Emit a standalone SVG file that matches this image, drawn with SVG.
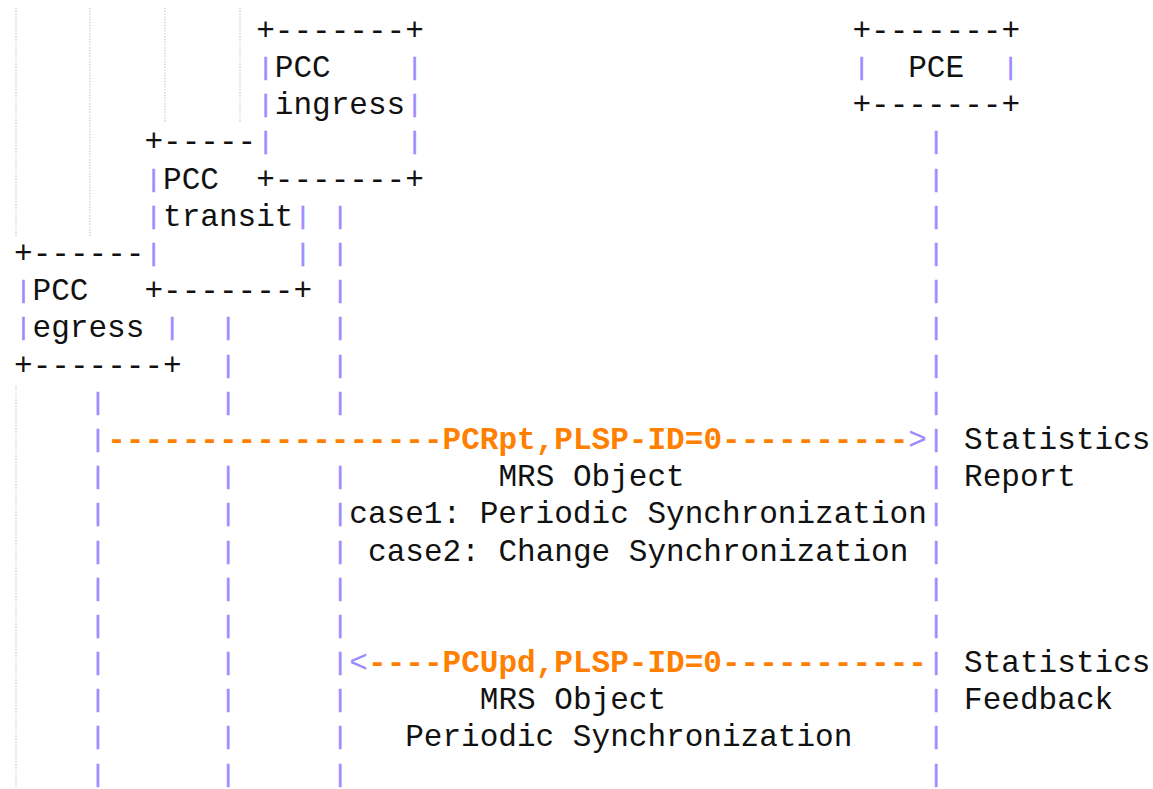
<svg xmlns="http://www.w3.org/2000/svg" width="1153" height="789" viewBox="0 0 1153 789">
<style>
text{font-family:"Liberation Mono","Courier New","DejaVu Sans Mono",monospace;font-size:31.05px;white-space:pre}
.t{fill:#111}
.b{fill:#9b8bff;stroke:#9b8bff;stroke-width:0.6;font-size:24.5px;text-anchor:middle;white-space:normal}
.a{fill:#9b8bff}
.o{fill:#ff8000;font-weight:bold}
.g{stroke:#c4c4c4;stroke-width:1.2;stroke-dasharray:1.2 1.6;fill:none}
</style>
<rect width="1153" height="789" fill="#fff"/>
<g id="guides">
<line class="g" x1="16" y1="8" x2="16" y2="236"/>
<line class="g" x1="16" y1="386" x2="16" y2="789"/>
<line class="g" x1="90" y1="8" x2="90" y2="236"/>
<line class="g" x1="165" y1="8" x2="165" y2="123"/>
<line class="g" x1="240" y1="8" x2="240" y2="123"/>
</g>
<g id="pcc-ingress">
<text class="t" x="256.2" y="39.8">+-------+</text>
<text class="b" x="265.5" y="75">|</text><text class="t" x="274.8" y="77">PCC</text><text class="b" x="414.5" y="75">|</text>
<text class="b" x="265.5" y="112.2">|</text><text class="t" x="274.8" y="114.2">ingress</text><text class="b" x="414.5" y="112.2">|</text>
<text class="b" x="265.5" y="149.4">|</text><text class="b" x="414.5" y="149.4">|</text>
<text class="t" x="256.2" y="188.6">+-------+</text>
</g>
<g id="pcc-transit">
<text class="t" x="144.4" y="151.4">+-----</text>
<text class="b" x="153.7" y="186.6">|</text><text class="t" x="163" y="188.6">PCC</text>
<text class="b" x="153.7" y="223.8">|</text><text class="t" x="163" y="225.8">transit</text><text class="b" x="302.8" y="223.8">|</text>
<text class="b" x="153.7" y="261">|</text><text class="b" x="302.8" y="261">|</text>
<text class="t" x="144.4" y="300.1">+-------+</text>
</g>
<g id="pcc-egress">
<text class="t" x="14" y="263">+------</text>
<text class="b" x="23.3" y="298.1">|</text><text class="t" x="32.6" y="300.1">PCC</text>
<text class="b" x="23.3" y="335.3">|</text><text class="t" x="32.6" y="337.3">egress</text><text class="b" x="172" y="335.3">|</text>
<text class="t" x="14" y="374.5">+-------+</text>
</g>
<g id="pce">
<text class="t" x="852.4" y="39.8">+-------+</text>
<text class="b" x="861.7" y="75">|</text><text class="t" x="908.2" y="77">PCE</text><text class="b" x="1010.7" y="75">|</text>
<text class="t" x="852.4" y="114.2">+-------+</text>
</g>
<g id="connectors">
<text class="b"><tspan x="97.8" y="409.7">|</tspan><tspan x="97.8" y="446.9">|</tspan><tspan x="97.8" y="484.1">|</tspan><tspan x="97.8" y="521.3">|</tspan><tspan x="97.8" y="558.5">|</tspan><tspan x="97.8" y="595.7">|</tspan><tspan x="97.8" y="632.8">|</tspan><tspan x="97.8" y="670">|</tspan><tspan x="97.8" y="707.2">|</tspan><tspan x="97.8" y="744.4">|</tspan><tspan x="97.8" y="781.6">|</tspan></text>
<text class="b"><tspan x="228.2" y="335.3">|</tspan><tspan x="228.2" y="372.5">|</tspan><tspan x="228.2" y="409.7">|</tspan><tspan x="228.2" y="484.1">|</tspan><tspan x="228.2" y="521.3">|</tspan><tspan x="228.2" y="558.5">|</tspan><tspan x="228.2" y="595.7">|</tspan><tspan x="228.2" y="632.8">|</tspan><tspan x="228.2" y="670">|</tspan><tspan x="228.2" y="707.2">|</tspan><tspan x="228.2" y="744.4">|</tspan><tspan x="228.2" y="781.6">|</tspan></text>
<text class="b"><tspan x="340" y="223.8">|</tspan><tspan x="340" y="261">|</tspan><tspan x="340" y="298.1">|</tspan><tspan x="340" y="335.3">|</tspan><tspan x="340" y="372.5">|</tspan><tspan x="340" y="409.7">|</tspan><tspan x="340" y="484.1">|</tspan><tspan x="340" y="521.3">|</tspan><tspan x="340" y="558.5">|</tspan><tspan x="340" y="595.7">|</tspan><tspan x="340" y="632.8">|</tspan><tspan x="340" y="670">|</tspan><tspan x="340" y="707.2">|</tspan><tspan x="340" y="744.4">|</tspan><tspan x="340" y="781.6">|</tspan></text>
<text class="b"><tspan x="936.2" y="149.4">|</tspan><tspan x="936.2" y="186.6">|</tspan><tspan x="936.2" y="223.8">|</tspan><tspan x="936.2" y="261">|</tspan><tspan x="936.2" y="298.1">|</tspan><tspan x="936.2" y="335.3">|</tspan><tspan x="936.2" y="372.5">|</tspan><tspan x="936.2" y="409.7">|</tspan><tspan x="936.2" y="446.9">|</tspan><tspan x="936.2" y="484.1">|</tspan><tspan x="936.2" y="521.3">|</tspan><tspan x="936.2" y="558.5">|</tspan><tspan x="936.2" y="595.7">|</tspan><tspan x="936.2" y="632.8">|</tspan><tspan x="936.2" y="670">|</tspan><tspan x="936.2" y="707.2">|</tspan><tspan x="936.2" y="744.4">|</tspan><tspan x="936.2" y="781.6">|</tspan></text>
<g id="msg-pcrpt">
<text class="o" x="107.2" y="448.9">------------------PCRpt,PLSP-ID=0----------</text>
<text class="a" x="908.2" y="448.9">&gt;</text>
</g>
<g id="msg-pcupd">
<text class="a" x="349.3" y="672">&lt;</text>
<text class="o" x="368" y="672">----PCUpd,PLSP-ID=0-----------</text>
</g>
</g>
<g id="labels">
<text class="t" x="964.1" y="448.9">Statistics</text>
<text class="t" x="964.1" y="486.1">Report</text>
<text class="t" x="498.4" y="486.1">MRS Object</text>
<text class="t" x="349.3" y="523.3">case1: Periodic Synchronization</text>
<text class="t" x="368" y="560.5">case2: Change Synchronization</text>
<text class="t" x="964.1" y="672">Statistics</text>
<text class="t" x="964.1" y="709.2">Feedback</text>
<text class="t" x="479.8" y="709.2">MRS Object</text>
<text class="t" x="405.2" y="746.4">Periodic Synchronization</text>
</g>
</svg>
